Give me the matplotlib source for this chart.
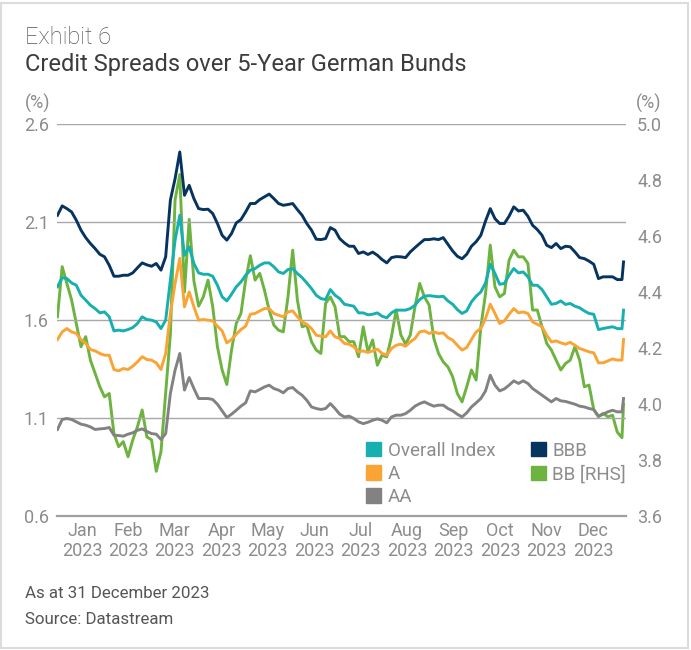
import matplotlib.pyplot as plt
import numpy as np
from matplotlib.patches import Patch, Rectangle

plt.rcParams['font.family'] = ['Roboto', 'DejaVu Sans']

# ---- data (every 3 days through 2023) ----
days = np.append(np.arange(0, 361, 3), 361)
months = ['Jan', 'Feb', 'Mar', 'Apr', 'May', 'Jun',
          'Jul', 'Aug', 'Sep', 'Oct', 'Nov', 'Dec']
year = '2023'

overall = [1.770, 1.817, 1.812, 1.790, 1.778, 1.727, 1.702, 1.676, 1.659, 1.637, 1.642, 1.617,
           1.545, 1.549, 1.545, 1.552, 1.562, 1.583, 1.617, 1.603, 1.600, 1.591, 1.557, 1.600,
           1.804, 2.008, 2.135, 1.931, 1.974, 1.889, 1.841,
           1.834, 1.834, 1.824, 1.778, 1.719, 1.698, 1.732, 1.770, 1.795, 1.829, 1.855, 1.863,
           1.880, 1.892, 1.892, 1.872, 1.846, 1.838, 1.858, 1.863, 1.838, 1.817, 1.790, 1.761,
           1.727, 1.710, 1.705, 1.756, 1.727,
           1.710, 1.681, 1.676, 1.671, 1.637, 1.637, 1.627, 1.630, 1.637, 1.620, 1.612, 1.637,
           1.651, 1.651, 1.651, 1.659, 1.676, 1.705, 1.722, 1.725, 1.722, 1.719, 1.722, 1.698,
           1.681, 1.654, 1.634, 1.647, 1.693,
           1.722, 1.744, 1.790, 1.885, 1.838, 1.783, 1.787, 1.829, 1.863, 1.841, 1.846, 1.821,
           1.778, 1.778, 1.756, 1.719, 1.681, 1.685, 1.698, 1.680, 1.685, 1.671, 1.663, 1.647,
           1.634, 1.630, 1.552, 1.557, 1.562, 1.566, 1.557, 1.556, 1.651]

bbb = [2.135, 2.183, 2.169, 2.152, 2.110, 2.059, 2.021, 1.991, 1.965, 1.936, 1.923, 1.880,
       1.824, 1.824, 1.829, 1.829, 1.841, 1.867, 1.892, 1.882, 1.875, 1.889, 1.855, 1.923,
       2.212, 2.322, 2.458, 2.237, 2.288, 2.220, 2.169,
       2.164, 2.166, 2.144, 2.093, 2.033, 2.008, 2.042, 2.096, 2.113, 2.152, 2.195, 2.195,
       2.215, 2.229, 2.243, 2.220, 2.195, 2.186, 2.190, 2.195, 2.164, 2.135, 2.093, 2.059,
       2.013, 2.011, 2.016, 2.072, 2.059,
       2.016, 1.994, 1.977, 1.977, 1.940, 1.948, 1.935, 1.947, 1.931, 1.909, 1.892, 1.919,
       1.924, 1.923, 1.919, 1.948, 1.970, 1.991, 2.011, 2.011, 2.015, 2.011, 2.021, 1.987,
       1.953, 1.926, 1.913, 1.936, 1.977,
       2.000, 2.033, 2.106, 2.169, 2.118, 2.093, 2.093, 2.130, 2.178, 2.157, 2.161, 2.130,
       2.084, 2.062, 2.033, 1.982, 1.970, 1.991, 1.965, 1.977, 1.974, 1.948, 1.919, 1.914,
       1.901, 1.885, 1.812, 1.821, 1.821, 1.821, 1.807, 1.807, 1.897]

a_rated = [1.501, 1.540, 1.557, 1.540, 1.532, 1.501, 1.481, 1.450, 1.443, 1.430, 1.421, 1.421,
           1.348, 1.341, 1.353, 1.348, 1.365, 1.387, 1.413, 1.399, 1.396, 1.382, 1.348, 1.430,
           1.634, 1.787, 1.915, 1.668, 1.744, 1.668, 1.600,
           1.603, 1.600, 1.596, 1.569, 1.545, 1.484, 1.501, 1.528, 1.552, 1.569, 1.630, 1.634,
           1.647, 1.659, 1.659, 1.634, 1.625, 1.617, 1.642, 1.647, 1.617, 1.591, 1.579, 1.557,
           1.523, 1.518, 1.515, 1.545, 1.515,
           1.506, 1.481, 1.477, 1.464, 1.438, 1.443, 1.435, 1.443, 1.452, 1.430, 1.421, 1.455,
           1.472, 1.477, 1.467, 1.489, 1.506, 1.540, 1.545, 1.532, 1.540, 1.532, 1.535, 1.511,
           1.498, 1.472, 1.447, 1.460, 1.501,
           1.540, 1.557, 1.608, 1.681, 1.634, 1.583, 1.596, 1.630, 1.659, 1.637, 1.642, 1.634,
           1.591, 1.579, 1.566, 1.523, 1.489, 1.494, 1.484, 1.477, 1.487, 1.472, 1.455, 1.447,
           1.438, 1.433, 1.382, 1.382, 1.392, 1.402, 1.396, 1.396, 1.501]

aa = [1.042, 1.093, 1.098, 1.093, 1.081, 1.069, 1.064, 1.055, 1.042, 1.045, 1.047, 1.052,
      1.013, 1.011, 1.008, 1.018, 1.025, 1.038, 1.045, 1.032, 1.021, 1.018, 0.991, 1.021,
      1.226, 1.345, 1.430, 1.243, 1.307, 1.251, 1.200,
      1.200, 1.200, 1.195, 1.171, 1.137, 1.103, 1.120, 1.140, 1.161, 1.178, 1.239, 1.234,
      1.246, 1.259, 1.268, 1.251, 1.243, 1.229, 1.251, 1.256, 1.234, 1.217, 1.191, 1.157,
      1.149, 1.144, 1.149, 1.174, 1.149,
      1.120, 1.106, 1.110, 1.098, 1.081, 1.072, 1.079, 1.089, 1.096, 1.089, 1.076, 1.106,
      1.115, 1.115, 1.123, 1.140, 1.161, 1.174, 1.183, 1.171, 1.161, 1.166, 1.166, 1.149,
      1.137, 1.120, 1.106, 1.127, 1.157,
      1.178, 1.200, 1.239, 1.319, 1.268, 1.239, 1.249, 1.268, 1.290, 1.277, 1.290, 1.277,
      1.251, 1.234, 1.217, 1.200, 1.183, 1.200, 1.188, 1.185, 1.178, 1.171, 1.161, 1.157,
      1.149, 1.144, 1.110, 1.120, 1.132, 1.140, 1.132, 1.132, 1.200]

# BB is read against the right-hand axis
bb = [4.312, 4.491, 4.431, 4.372, 4.288, 4.205, 4.241, 4.157, 4.110, 4.062, 4.026, 4.038,
      3.895, 3.848, 3.866, 3.812, 3.872, 3.919, 3.979, 3.883, 3.872, 3.760, 3.830, 4.040,
      4.250, 4.730, 4.820, 4.400, 4.660, 4.440, 4.350,
      4.383, 4.443, 4.348, 4.205, 4.122, 4.070, 4.193, 4.288, 4.324, 4.443, 4.530, 4.443,
      4.467, 4.407, 4.336, 4.282, 4.264, 4.258, 4.383, 4.550, 4.372, 4.276, 4.282, 4.223,
      4.193, 4.181, 4.360, 4.383, 4.348,
      4.241, 4.241, 4.223, 4.223, 4.169, 4.276, 4.187, 4.229, 4.139, 4.175, 4.169, 4.241,
      4.336, 4.247, 4.214, 4.247, 4.348, 4.431, 4.383, 4.354, 4.235, 4.181, 4.151, 4.133,
      4.098, 4.038, 4.008, 4.062, 4.122,
      4.086, 4.276, 4.395, 4.568, 4.419, 4.383, 4.395, 4.514, 4.550, 4.526, 4.526, 4.503,
      4.336, 4.336, 4.276, 4.217, 4.193, 4.157, 4.122, 4.145, 4.157, 4.205, 4.157, 4.062,
      4.068, 3.980, 3.955, 3.967, 3.955, 3.960, 3.900, 3.880, 4.000]

left_ticks = [0.6, 1.1, 1.6, 2.1, 2.6]
right_ticks = [3.6, 3.8, 4.0, 4.2, 4.4, 4.6, 4.8, 5.0]

c_overall = '#17afaf'
c_bbb = '#07335f'
c_a = '#f9a435'
c_aa = '#828282'
c_bb = '#6cb33f'
grey_txt = '#8c8c8c'

fig = plt.figure(figsize=(6.91, 6.5), dpi=100)
ax = fig.add_axes([0.0825, 0.206, 0.8235, 0.603])
ax2 = ax.twinx()

# BB sits behind the other lines
ax2.plot(days, bb, color=c_bb, lw=2.1)
ax.set_zorder(ax2.get_zorder() + 1)
ax.patch.set_visible(False)

ax.plot(days, aa, color=c_aa, lw=2.1)
ax.plot(days, a_rated, color=c_a, lw=2.1)
ax.plot(days, overall, color=c_overall, lw=2.1)
ax.plot(days, bbb, color=c_bbb, lw=2.1)

ax.set_xlim(-0.3, 362.6)
ax.set_ylim(0.6, 2.6)
ax.set_yticks(left_ticks)
ax.set_yticklabels([f'{v:.1f}' for v in left_ticks])
ax.grid(axis='y', color='#a8a8a8', lw=1)
ax.set_axisbelow(True)

ax2.set_ylim(3.6, 5.0)
ax2.set_yticks(right_ticks)
ax2.set_yticklabels([f'{v:.1f}' for v in right_ticks])

ax.set_xticks(np.linspace(15.6, 341.5, 12))
ax.set_xticklabels([f'{m}\n{year}' for m in months])

for a in (ax, ax2):
    for s in a.spines.values():
        s.set_visible(False)
    a.tick_params(length=0, labelsize=13, labelcolor=grey_txt)
ax.spines['bottom'].set_visible(True)
ax.spines['bottom'].set_color('#a0a0a0')
ax.spines['bottom'].set_linewidth(1.6)
ax.tick_params(axis='y', pad=6)
ax.tick_params(axis='x', pad=4)
ax2.tick_params(axis='y', pad=8)
for lab in ax.get_xticklabels():
    lab.set_linespacing(1.15)

handles = [Patch(color=c_overall, label='Overall Index'),
           Patch(color=c_a, label='A'),
           Patch(color=c_aa, label='AA'),
           Patch(color=c_bbb, label='BBB'),
           Patch(color=c_bb, label='BB [RHS]')]
ax.legend(handles=handles, ncol=2, loc='upper left', bbox_to_anchor=(0.543, 0.19),
          frameon=False, fontsize=13.5, labelcolor=grey_txt, handlelength=0.8,
          handleheight=0.8, handletextpad=0.35, columnspacing=1.9, labelspacing=0.28,
          borderpad=0, borderaxespad=0)

# titles and notes
fig.text(25 / 691, 1 - 38 / 650, 'Exhibit 6', fontsize=17, color='#555555',
         va='center', fontweight='light')
fig.text(25 / 691, 1 - 64 / 650, 'Credit Spreads over 5-Year German Bunds', fontsize=17,
         color='#3c3c3c', va='center')
fig.text(25 / 691, 1 - 103 / 650, '(%)', fontsize=13, color=grey_txt, va='center')
fig.text(636 / 691, 1 - 103 / 650, '(%)', fontsize=13, color=grey_txt, va='center')
fig.text(25 / 691, 1 - 594 / 650, 'As at 31 December 2023', fontsize=12.2,
         color='#555555', va='center')
fig.text(25 / 691, 1 - 620 / 650, 'Source: Datastream', fontsize=12.2,
         color='#555555', va='center')

fig.patches.append(Rectangle((0.002, 0.003), 0.994, 0.993, transform=fig.transFigure,
                             fill=False, ec='#dcdcdc', lw=1.5))

fig.savefig('out.png', dpi=100)
